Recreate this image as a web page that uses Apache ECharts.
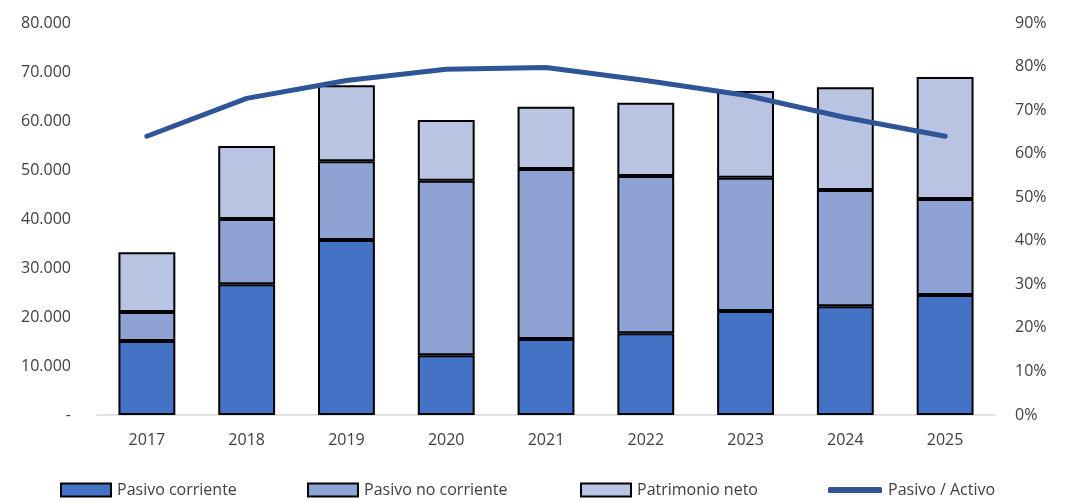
<!DOCTYPE html>
<html><head><meta charset="utf-8">
<script src="https://cdn.jsdelivr.net/npm/echarts@6/dist/echarts.min.js"></script>
<style>html,body{margin:0;padding:0;background:#fff}#c{width:1068px;height:500px}</style>
</head><body><div id="c"></div>
<script>
const categories = ['2017','2018','2019','2020','2021','2022','2023','2024','2025'];
const pasivoCorriente = [15100, 26700, 35700, 12200, 15500, 16700, 21200, 22200, 24500];
const pasivoNoCorriente = [5900, 13300, 16100, 35600, 34700, 32100, 27200, 23700, 19600];
const patrimonioNeto = [12200, 14900, 15500, 12400, 12700, 14900, 17700, 21000, 24900];
const pasivoActivo = [0.64, 0.727, 0.768, 0.794, 0.798, 0.768, 0.734, 0.683, 0.64];
const seriesNames = ['Pasivo corriente','Pasivo no corriente','Patrimonio neto','Pasivo / Activo'];

const font = '"Open Sans", Arial, sans-serif';
const txt = '#404040';
const chart = echarts.init(document.getElementById('c'), null, {renderer:'canvas'});
function lg(name, left, extra){
  return Object.assign({data:[name], left:left, top:482, padding:0, itemWidth:50, itemHeight:13, itemGap:6,
    icon:'rect',
    textStyle:{fontFamily:font, fontSize:16, color:txt, padding:[0,0,0,1]}, selectedMode:false}, extra||{});
}
chart.setOption({
  animation:false,
  grid:{left:97, right:73, top:23, bottom:85},
  legend:[lg(seriesNames[0],60), lg(seriesNames[1],307), lg(seriesNames[2],580),
    lg(seriesNames[3],828,{icon:'roundRect', itemWidth:54, itemHeight:6, top:482,
      itemStyle:{color:'#2F5597', borderWidth:0}})],
  xAxis:{type:'category', data:categories,
    axisLine:{lineStyle:{color:'#D9D9D9', width:1.5}}, axisTick:{show:false},
    axisLabel:{fontFamily:font, fontSize:16, color:txt, margin:17}},
  yAxis:[
    {type:'value', min:0, max:80000, interval:10000, splitLine:{show:false},
     axisLine:{show:false}, axisTick:{show:false},
     axisLabel:{fontFamily:font, fontSize:16, color:txt, margin:26,
       formatter:v=> v===0 ? '-' : (v/1000).toFixed(0)+'.000'}},
    {type:'value', min:0, max:0.9, interval:0.1, splitLine:{show:false},
     axisLine:{show:false}, axisTick:{show:false},
     axisLabel:{fontFamily:font, fontSize:16, color:txt, margin:20,
       formatter:v=> Math.round(v*100)+'%'}}
  ],
  series:[
    {name:seriesNames[0], type:'bar', stack:'a', data:pasivoCorriente, barWidth:'57%',
     itemStyle:{color:'#4472C4', borderColor:'#000', borderWidth:2}},
    {name:seriesNames[1], type:'bar', stack:'a', data:pasivoNoCorriente, barWidth:'57%',
     itemStyle:{color:'#8FA2D4', borderColor:'#000', borderWidth:2}},
    {name:seriesNames[2], type:'bar', stack:'a', data:patrimonioNeto, barWidth:'57%',
     itemStyle:{color:'#B9C3E2', borderColor:'#000', borderWidth:2}},
    {name:seriesNames[3], type:'line', yAxisIndex:1, data:pasivoActivo, symbol:'none',
     lineStyle:{color:'#2F5597', width:5, cap:'round', join:'round'},
     itemStyle:{color:'#2F5597'}}
  ]
});
</script></body></html>
